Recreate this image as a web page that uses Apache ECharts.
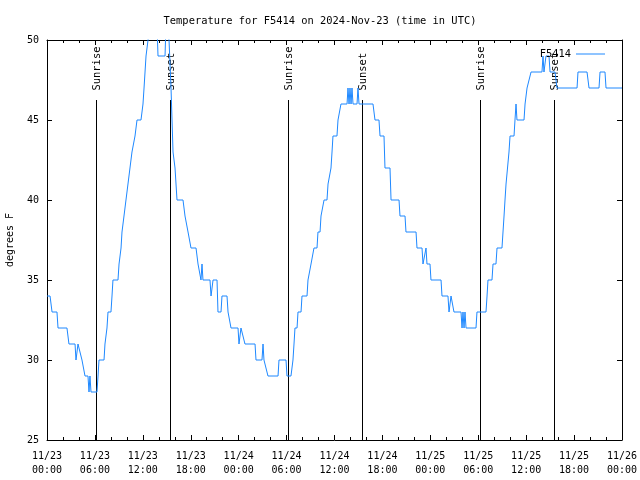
<!DOCTYPE html>
<html>
<head>
<meta charset="utf-8">
<script src="https://cdn.jsdelivr.net/npm/echarts@6/dist/echarts.min.js"></script>
<style>html,body{margin:0;padding:0;background:#fff;}#c{width:640px;height:480px;}</style>
</head>
<body>
<div id="c"></div>
<script>
// hours since 2024-11-23 00:00 UTC
var hours = [0,0.38,0.63,1.25,1.38,2.50,2.75,3.51,3.63,3.76,3.88,4.13,4.38,4.63,4.76,5.13,5.26,5.32,5.38,5.45,5.51,6.26,6.39,6.51,7.14,7.26,7.51,7.64,8.01,8.14,8.26,8.89,9.02,9.27,9.39,9.64,9.89,10.14,10.39,10.64,11.02,11.27,11.77,12.02,12.15,12.40,12.65,12.90,13.77,13.90,14.78,14.90,15.15,15.28,15.53,15.78,16.03,16.28,17.03,17.28,17.66,18.03,18.66,18.91,19.16,19.28,19.41,19.53,20.41,20.54,20.66,20.79,21.29,21.41,21.79,21.91,22.54,22.67,22.92,23.04,23.92,24.04,24.29,24.54,24.79,26.05,26.17,26.92,27.05,27.17,27.42,27.67,28.93,29.05,29.93,30.05,30.55,30.80,30.93,31.05,31.31,31.43,31.81,31.93,32.56,32.68,32.93,33.06,33.31,33.43,33.81,33.93,34.19,34.31,34.56,34.69,35.06,35.19,35.44,35.56,35.69,35.81,36.31,36.44,36.69,36.81,37.57,37.69,37.82,37.94,38.07,38.19,38.32,38.82,38.94,39.07,40.82,41.07,41.57,41.70,42.20,42.32,42.95,43.08,44.08,44.20,44.83,44.95,46.21,46.33,46.96,47.08,47.33,47.46,47.58,47.96,48.08,49.34,49.46,50.21,50.34,50.46,50.59,50.84,50.96,51.84,51.97,52.09,52.22,52.34,52.47,53.72,53.84,54.97,55.10,55.22,55.72,55.85,56.22,56.35,56.97,57.10,57.23,57.35,57.48,57.73,57.85,57.98,58.48,58.60,58.73,58.85,59.73,59.86,59.98,60.11,60.36,60.61,61.98,62.11,62.23,62.36,62.48,62.86,62.99,63.61,63.86,66.37,66.49,67.62,67.87,69.12,69.25,69.87,70.00,72];
var temps = [34,34,33,33,32,32,31,31,30,30,31,31,30,30,29,29,28,28,29,29,28,28,29,30,30,31,32,33,33,34,35,35,36,37,38,39,40,41,42,43,44,45,45,46,47,49,50,51,51,49,49,51,51,50,47,43,42,40,40,39,38,37,37,36,36,35,36,35,35,34,34,35,35,33,33,34,34,33,33,32,32,31,32,32,31,31,30,30,31,30,30,29,29,30,30,29,29,30,31,32,32,33,33,34,34,35,35,36,36,37,37,38,38,39,39,40,40,41,41,42,43,44,44,45,45,46,46,47,46,47,46,47,46,46,47,46,46,45,45,44,44,42,42,40,40,39,39,38,38,37,37,36,36,37,36,36,35,35,34,34,33,33,34,34,33,33,32,33,32,33,32,32,33,33,34,35,35,36,36,37,37,38,39,40,41,41,43,44,44,45,46,45,45,46,46,47,47,48,48,49,48,48,49,49,48,48,47,47,48,48,47,47,48,48,47,47];
var eventHours = [6.14, 15.40, 30.18, 39.44, 54.22, 63.49];
var eventLabels = ['Sunrise','Sunset','Sunrise','Sunset','Sunrise','Sunset'];
var dayLabels = ['11/23','11/24','11/25','11/26'];
var seriesName = 'F5414';
var titleText = 'Temperature for F5414 on 2024-Nov-23 (time in UTC)';

var FONT = 'DejaVu Sans Mono';
var LINE_COLOR = '#1e88ff';
var lineData = hours.map(function(h, i){ return [h, temps[i]]; });
var evData = eventHours.map(function(h, i){ return [h, eventLabels[i]]; });

function xLabel(v){
  var d = Math.floor(v / 24);
  var hh = v - d * 24;
  return dayLabels[d] + '\n' + (hh < 10 ? '0' : '') + hh + ':00';
}

var axisCommon = {
  axisLine: {show: true, onZero: false, lineStyle: {color: '#000', width: 1}},
  axisTick: {show: true, inside: true, length: 5, lineStyle: {color: '#000'}},
  splitLine: {show: false}
};

var chart = echarts.init(document.getElementById('c'), null, {renderer: 'canvas'});
chart.setOption({
  animation: false,
  backgroundColor: '#fff',
  textStyle: {fontFamily: FONT},
  title: {
    text: titleText, left: 'center', top: 11,
    textStyle: {fontFamily: FONT, fontSize: 10.4, fontWeight: 'normal', color: '#000'}
  },
  legend: {
    data: [seriesName], right: 30, top: 44, align: 'right',
    icon: 'rect', itemWidth: 29, itemHeight: 1, itemGap: 5,
    itemStyle: {color: LINE_COLOR},
    textStyle: {fontFamily: FONT, fontSize: 10.4, color: '#000', padding: [0,0,0,0]}
  },
  grid: {left: 47, right: 18, top: 40, bottom: 40, containLabel: false, outerBoundsMode: 'none'},
  xAxis: [
    Object.assign({}, axisCommon, {
      type: 'value', min: 0, max: 72, interval: 6, position: 'bottom',
      minorTick: {show: true, splitNumber: 3, length: 3, lineStyle: {color: '#000'}},
      axisLabel: {formatter: xLabel, fontFamily: FONT, fontSize: 10, color: '#000', margin: 9, lineHeight: 14}
    }),
    Object.assign({}, axisCommon, {
      type: 'value', min: 0, max: 72, interval: 6, position: 'top',
      minorTick: {show: true, splitNumber: 3, length: 3, lineStyle: {color: '#000'}},
      axisLabel: {show: false}
    })
  ],
  yAxis: [
    Object.assign({}, axisCommon, {
      type: 'value', min: 25, max: 50, interval: 5, position: 'left',
      name: 'degrees F', nameLocation: 'middle', nameGap: 32, nameRotate: 90,
      nameTextStyle: {fontFamily: FONT, fontSize: 10, color: '#000'},
      axisLabel: {fontFamily: FONT, fontSize: 10, color: '#000', margin: 8}
    }),
    Object.assign({}, axisCommon, {
      type: 'value', min: 25, max: 50, interval: 5, position: 'right',
      axisLabel: {show: false}
    })
  ],
  series: [
    {
      type: 'custom', name: 'events', xAxisIndex: 0, yAxisIndex: 0, z: 1,
      silent: true, clip: false,
      data: evData,
      encode: {x: 0},
      renderItem: function(params, api){
        var h = api.value(0);
        var top = api.coord([h, 46.25]);
        var bot = api.coord([h, 25]);
        var lab = api.coord([h, 46.85]);
        return {
          type: 'group',
          children: [
            {type: 'line', shape: {x1: Math.round(top[0]) + 0.5, y1: top[1], x2: Math.round(bot[0]) + 0.5, y2: bot[1]},
             style: {stroke: '#000', lineWidth: 1}},
            {type: 'text', x: lab[0] + 1.5, y: lab[1], rotation: Math.PI / 2,
             style: {text: evData[params.dataIndex][1], fill: '#000', font: '10.4px "' + FONT + '"', align: 'left', verticalAlign: 'middle'}}
          ]
        };
      }
    },
    {
      type: 'line', name: seriesName, xAxisIndex: 0, yAxisIndex: 0, z: 3,
      data: lineData, symbol: 'none', showSymbol: false, clip: true,
      lineStyle: {color: LINE_COLOR, width: 1},
      itemStyle: {color: LINE_COLOR}
    }
  ]
});
</script>
</body>
</html>
